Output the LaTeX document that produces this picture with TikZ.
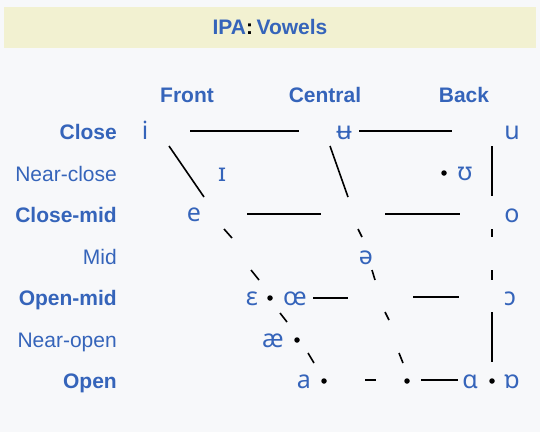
\documentclass[tikz,border=0pt]{standalone}
\usepackage{fontspec}
\setmainfont{Liberation Sans}
\newfontfamily\ipafont{Noto Sans}
\definecolor{bgc}{HTML}{F7F8FA}
\definecolor{bandc}{HTML}{F2F1D1}
\definecolor{ipablue}{HTML}{3564BA}
\tikzset{
  lab/.style={font=\fontsize{21}{25}\selectfont, text=ipablue, anchor=base east, inner sep=0pt},
  blab/.style={lab, font=\bfseries\fontsize{21}{25}\selectfont},
  colhead/.style={font=\bfseries\fontsize{21}{25}\selectfont, text=ipablue, anchor=base, inner sep=0pt},
  vow/.style={font=\ipafont\fontsize{25}{30}\selectfont, text=ipablue, anchor=base, inner sep=0pt},
  vdot/.style={circle, fill=black, inner sep=0pt, minimum size=5.5pt},
  ln/.style={line width=1.6pt, black}
}
\begin{document}
\begin{tikzpicture}[x=1pt,y=-1pt]
\useasboundingbox (0,0) rectangle (540,432);
\fill[bgc] (0,0) rectangle (540,432);
\fill[bandc] (4,7) rectangle (536,48);
\node[font=\bfseries\fontsize{21}{25}\selectfont, anchor=base, inner sep=0pt] (title) at (270,34.5)
  {\textcolor{ipablue}{IPA}:\,\textcolor{ipablue}{Vowels}};
% column headings
\node[colhead] (front) at (187,102.5) {Front};
\node[colhead] (central) at (325,102.5) {Central};
\node[colhead] (back) at (464,102.5) {Back};
% row labels
\node[blab] (rclose) at (117,139.5) {Close};
\node[lab] (rnclose) at (117,181.5) {Near-close};
\node[blab] (rcmid) at (117,222.5) {Close-mid};
\node[lab] (rmid) at (117,264.5) {Mid};
\node[blab] (romid) at (117,305.5) {Open-mid};
\node[lab] (rnopen) at (117,347.5) {Near-open};
\node[blab] (ropen) at (117,388.5) {Open};
% lines (visible pieces)
\draw[ln] (169,146)--(204,197) (224,229)--(232,238) (251,270)--(259,280) (280,313)--(287,322) (308,353)--(314,363);
\draw[ln] (330,146)--(348,197) (358,229)--(362,237) (372,270)--(375,280) (385,312)--(389,320) (399,353)--(403,363);
\draw[ln] (492,146)--(492,196) (492,229)--(492,237) (492,270)--(492,280) (492,312)--(492,362);
\draw[ln] (190,131)--(299,131) (359,131)--(452,131);
\draw[ln] (247,214)--(321,214) (385,214)--(460,214);
\draw[ln] (313,298)--(348,298) (413,297)--(459,297);
\draw[ln] (365,380)--(376,380) (421,380)--(458,380);
% vowels
\node[vow] (vi) at (145,139) {i};
\node[vow] (vbu) at (344,139) {ʉ};
\node[vow] (vu) at (512,139) {u};
\node[vow] (vI) at (222,181) {ɪ};
\node[vow] (vU) at (465,180) {ʊ};
\node[vow] (ve) at (194,221) {e};
\node[vow] (vo) at (512,222) {o};
\node[vow] (vschwa) at (366,264) {ə};
\node[vow] (veps) at (252,305) {ɛ};
\node[vow] (voe) at (295,305) {œ};
\node[vow] (vopeno) at (510,305) {ɔ};
\node[vow] (vae) at (273,347) {æ};
\node[vow] (va) at (304,388) {a};
\node[vow] (valpha) at (470,388) {ɑ};
\node[vow] (vturned) at (512,388) {ɒ};
% dots
\node[vdot] (d1) at (444,173) {};
\node[vdot] (d2) at (270,298) {};
\node[vdot] (d3) at (297,340) {};
\node[vdot] (d4) at (324,381) {};
\node[vdot] (d5) at (407,381) {};
\node[vdot] (d6) at (492,381) {};
\end{tikzpicture}
\end{document}
